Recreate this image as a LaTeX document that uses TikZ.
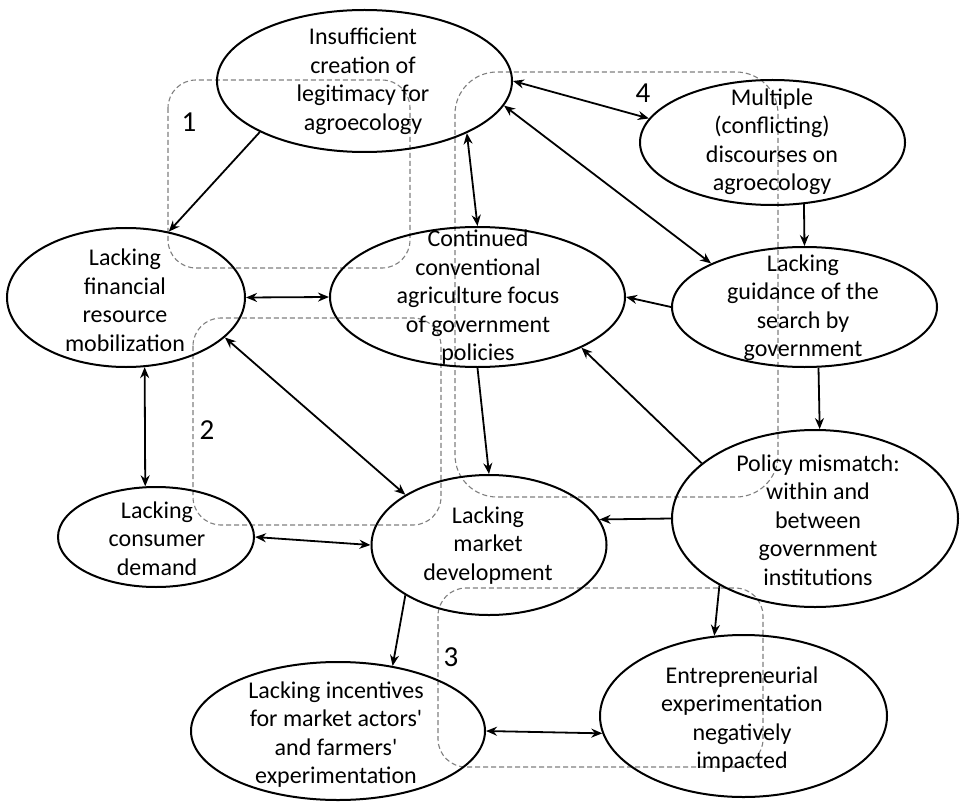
\documentclass[tikz,border=0pt]{standalone}
\usepackage{fontspec}
\setmainfont{Carlito}
\usetikzlibrary{shapes.geometric,arrows.meta}
\begin{document}
\begin{tikzpicture}[x=1pt,y=-1pt,
  bub/.style={ellipse, draw, line width=2pt, inner sep=0pt},
  lbl/.style={align=center, font=\fontsize{24}{28.5}\selectfont, inner sep=0pt},
  num/.style={font=\fontsize{29}{34}\selectfont, inner sep=0pt},
  grp/.style={draw=black!50, dash pattern=on 5pt off 3pt, line width=1.1pt, rounded corners=28pt},
  con/.style={line width=1.8pt, -{Stealth[length=11pt,width=9pt]}},
  bi/.style={line width=1.8pt, {Stealth[length=11pt,width=9pt]}-{Stealth[length=11pt,width=9pt]}},
]
\useasboundingbox[fill=white] (0,0) rectangle (960,802);

% dashed groups
\draw[grp] (168,80) rectangle (410,268);
\draw[grp] (193,318) rectangle (441,525);
\draw[grp] (438,588) rectangle (763,767);
\draw[grp, rounded corners=42pt] (455,72) rectangle (778,497);

% group numbers
\node[num] (n1) at (189,122) {1};
\node[num] (n2) at (207,430) {2};
\node[num] (n3) at (451,657) {3};
\node[num] (n4) at (643,93) {4};

% ellipses
\node[bub, minimum width=295pt, minimum height=142pt] (leg)  at (364.5,81) {};
\node[bub, minimum width=265pt, minimum height=125pt] (disc) at (772.5,142.5) {};
\node[bub, minimum width=238pt, minimum height=139pt] (fin)  at (126,297.5) {};
\node[bub, minimum width=295pt, minimum height=140pt] (conv) at (477.5,297) {};
\node[bub, minimum width=265pt, minimum height=120pt] (guid) at (804.5,307) {};
\node[bub, minimum width=196pt, minimum height=100pt] (cons) at (156,537) {};
\node[bub, minimum width=235pt, minimum height=140pt] (mkt)  at (489,545) {};
\node[bub, minimum width=286pt, minimum height=177pt] (pol)  at (815,518.5) {};
\node[bub, minimum width=294pt, minimum height=138pt] (inc)  at (338,731) {};
\node[bub, minimum width=287pt, minimum height=162pt] (ent)  at (743.5,716) {};

% texts
\node[lbl] (legt)  at (363,81.5)  {Insufficient\\creation of\\legitimacy for\\agroecology};
\node[lbl] (disct) at (772,141.5) {Multiple\\(conflicting)\\discourses on\\agroecology};
\node[lbl] (guidt) at (803,307.5) {Lacking\\guidance of the\\search by\\government};
\node[lbl] (convt) at (478,297.5) {Continued\\conventional\\agriculture focus\\of government\\policies};
\node[lbl] (fint)  at (125,300.5) {Lacking\\financial\\resource\\mobilization};
\node[lbl] (const) at (157,538.5) {Lacking\\consumer\\demand};
\node[lbl] (mktt)  at (488,545.5) {Lacking\\market\\development};
\node[lbl] (polt)  at (818,520)   {Policy mismatch:\\within and\\between\\government\\institutions};
\node[lbl] (inct)  at (336,734.5) {Lacking incentives\\for market actors\textquotesingle\\and farmers\textquotesingle\\experimentation};
\node[lbl] (entt)  at (742,719.5) {Entrepreneurial\\experimentation\\negatively\\impacted};

% connectors
\draw[con] (leg.-154) -- (fin.57);
\draw[bi]  (leg.0) -- (disc.169);
\draw[bi]  (leg.-10) -- (guid.155);
\draw[bi]  (leg.-27) -- (conv.90);
\draw[con] (disc.-63) -- (guid.90);
\draw[bi]  (fin.0) -- (conv.180);
\draw[con] (guid.180) -- (conv.0);
\draw[con] (guid.-77) -- (pol.87);
\draw[con] (pol.154) -- (conv.-26);
\draw[con] (conv.-90) -- (mkt.90);
\draw[bi]  (fin.-22) -- (mkt.149);
\draw[bi]  (fin.-75) -- (cons.102);
\draw[bi]  (cons.0) -- (mkt.180);
\draw[con] (pol.180) -- (mkt.13);
\draw[con] (mkt.-149) -- (inc.50);
\draw[con] (pol.-145) -- (ent.110);
\draw[bi]  (inc.0) -- (ent.-173);
\end{tikzpicture}
\end{document}
